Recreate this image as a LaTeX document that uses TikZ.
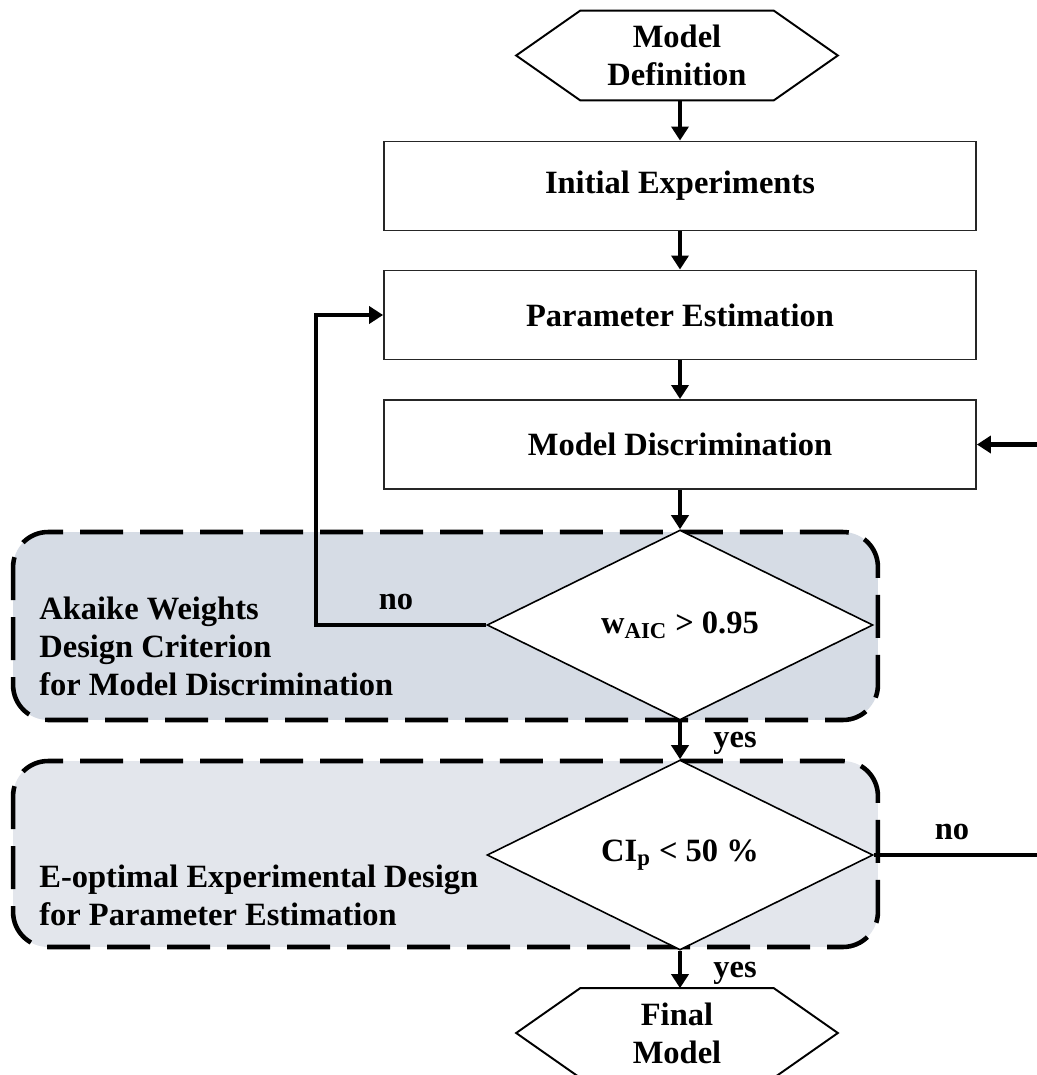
\documentclass[tikz,border=0pt]{standalone}
\usepackage{fontspec}
\setmainfont{Liberation Serif}
\usetikzlibrary{shapes.geometric,arrows.meta,calc}

\definecolor{aicfill}{RGB}{214,220,229}
\definecolor{cifill}{RGB}{227,230,236}

\begin{document}
\begin{tikzpicture}[x=0.02cm,y=-0.02cm,
    every node/.style={font=\bfseries\fontsize{18.5}{21.6}\selectfont},
    procbox/.style={draw=black!85,line width=1.1pt,fill=white,minimum width=11.84cm,minimum height=1.78cm,inner sep=0pt},
    hexbox/.style={minimum width=3.86cm,minimum height=1.78cm,inner sep=0pt,align=center},
    hexline/.style={draw=black,line width=1.1pt},
    decision/.style={diamond,draw=black,line width=0.9pt,fill=white,minimum width=7.72cm,minimum height=3.8cm,inner sep=0pt},
    groupbox/.style={draw=black,line width=2.6pt,dash pattern=on 0.86cm off 0.34cm,rounded corners=0.7cm,minimum width=17.3cm,inner sep=0pt},
    flow/.style={line width=2.8pt,-{Triangle[length=0.28cm,width=0.34cm]}},
    plain/.style={line width=2.8pt},
    grouptext/.style={anchor=west,align=left,inner sep=0pt}]

    % Fix the frame of the picture
    \useasboundingbox (0,0) rectangle (1037,1075);
    \clip (0,0) rectangle (1037,1075);

    % Dashed groups behind the decisions
    \node[groupbox,fill=aicfill,minimum height=3.76cm] (aicgroup) at (445.5,626) {};
    \node[groupbox,fill=cifill,minimum height=3.72cm] (cigroup) at (445.5,854) {};

    \node[grouptext] (aictext) at (39,646) {Akaike Weights\\Design Criterion\\for Model Discrimination};
    \node[grouptext] (citext) at (39,895) {E-optimal Experimental Design\\for Parameter Estimation};

    % Start and end hexagons
    \node[hexbox] (start) at (677,55.5) {Model\\Definition};
    \draw[hexline] (start.north west) -- (start.north east) -- ($(start.east)+(64,0)$)
        -- (start.south east) -- (start.south west) -- ($(start.west)+(-64,0)$) -- cycle;

    \node[hexbox] (final) at (677,1033) {Final\\Model};
    \draw[hexline] (final.north west) -- (final.north east) -- ($(final.east)+(64,0)$)
        -- (final.south east) -- (final.south west) -- ($(final.west)+(-64,0)$) -- cycle;

    % Process boxes
    \node[procbox] (init) at (680,186) {Initial Experiments};
    \node[procbox] (paramest) at (680,315) {Parameter Estimation};
    \node[procbox] (discr) at (680,444.5) {Model Discrimination};

    % Decisions
    \node[decision] (aic) at (680,625) {w\textsubscript{AIC} > 0.95};
    \node[decision] (ci) at (680,855) {CI\textsubscript{p} < 50 \%};

    % Free ends at the right edge and the turn of the loop
    \coordinate (noturn) at (316,0);
    \coordinate (rtop) at (1037,444.5);
    \coordinate (rbot) at (1037,855);

    % Main flow
    \draw[flow] (start.south -| init.north) -- (init.north);
    \draw[flow] (init.south) -- (paramest.north);
    \draw[flow] (paramest.south) -- (discr.north);
    \draw[flow] (discr.south) -- (aic.north);
    \draw[flow] (aic.south) -- (ci.north);
    \draw[flow] (ci.south) -- (final.north -| ci.south);

    % Loops back
    \draw[flow] (aic.west) -- (aic.west -| noturn) -- (noturn |- paramest.west) -- (paramest.west);
    \draw[plain] (ci.east) -- (rbot);
    \draw[flow] (rtop) -- (discr.east);

    % Branch labels
    \node (noaic) at (396,602) {no};
    \node (noci) at (952,832) {no};
    \node (yesaic) at (735,743) {yes};
    \node (yesci) at (735,973) {yes};

\end{tikzpicture}
\end{document}
